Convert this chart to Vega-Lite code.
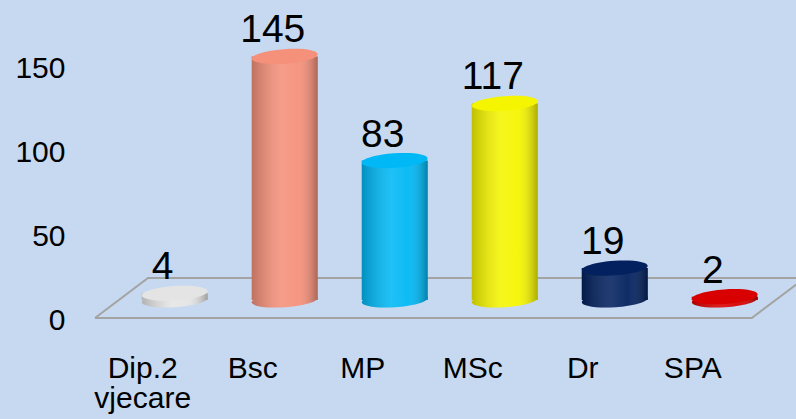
{
  "$schema": "https://vega.github.io/schema/vega-lite/v6.json",
  "width": 701,
  "height": 312,
  "autosize": {"type": "none"},
  "padding": {"left": 95, "top": 6, "right": 0, "bottom": 101},
  "background": "#c6d9f0",
  "config": {
    "view": {"stroke": null},
    "font": "Liberation Sans"
  },
  "datasets": {
    "bars": [
      {"cat": "Dip.2 vjecare", "value": 4},
      {"cat": "Bsc", "value": 145},
      {"cat": "MP", "value": 83},
      {"cat": "MSc", "value": 117},
      {"cat": "Dr", "value": 19},
      {"cat": "SPA", "value": 2}
    ],
    "floor": [
      {"fx": 0, "fy": -10.7, "k": 0},
      {"fx": 93.7, "fy": -10.7, "k": 1},
      {"fx": 101.3, "fy": 13.1, "k": 2},
      {"fx": 7.56, "fy": 13.1, "k": 3},
      {"fx": 0, "fy": -10.7, "k": 4}
    ]
  },
  "resolve": {"scale": {"x": "independent", "color": "independent"}},
  "layer": [
    {
      "data": {"name": "floor"},
      "mark": {"type": "line", "stroke": "#a3a3a3", "strokeWidth": 2, "clip": false},
      "encoding": {
        "x": {"field": "fx", "type": "quantitative", "axis": null, "scale": {"domain": [0, 100], "nice": false, "zero": false}},
        "y": {"field": "fy", "type": "quantitative", "scale": {"domain": [-10.7, 175], "nice": false, "zero": false},
          "axis": {
            "title": null, "domain": false, "ticks": false, "tickSize": 0, "grid": false,
            "values": [0, 50, 100, 150], "labelFontSize": 30, "labelColor": "#000000",
            "labelFont": "Liberation Sans", "labelPadding": 30, "labelOffset": 20
          }},
        "order": {"field": "k", "type": "quantitative"}
      }
    },
    {
      "data": {"name": "bars"},
      "encoding": {
        "x": {
          "field": "cat", "type": "nominal", "sort": null,
          "scale": {"paddingInner": 0.4, "paddingOuter": 0.386, "align": 0.55},
          "axis": {
            "title": null, "domain": false, "ticks": false, "tickSize": 0,
            "labelAngle": 0, "labelFontSize": 30, "labelColor": "#000000",
            "labelFont": "Liberation Sans", "labelPadding": 35, "labelOffset": -32,
            "labelLineHeight": 30, "labelBaseline": "top",
            "labelExpr": "datum.label == 'Dip.2 vjecare' ? ['Dip.2', 'vjecare'] : datum.label"
          }
        },
        "y": {
          "field": "value", "type": "quantitative",
          "scale": {"domain": [-10.7, 175], "nice": false, "zero": false},
          "axis": {
            "title": null, "domain": false, "ticks": false, "tickSize": 0, "grid": false,
            "values": [0, 50, 100, 150], "labelFontSize": 30, "labelColor": "#000000",
            "labelFont": "Liberation Sans", "labelPadding": 30, "labelOffset": 20
          }
        }
      },
      "layer": [
        {
          "mark": {"type": "point", "filled": true, "opacity": 1, "size": 4356, "angle": -4,
                   "shape": "M-1,0A1,0.22,0,1,0,1,0A1,0.22,0,1,0,-1,0Z"},
          "encoding": {
            "y": {"datum": 0},
            "color": {"field": "cat", "type": "nominal", "legend": null,
              "scale": {"domain": ["Dip.2 vjecare", "Bsc", "MP", "MSc", "Dr", "SPA"],
                        "range": ["#e4e4e4", "#f5907a", "#00b8f5", "#f5f500", "#03215e", "#d80000"]}}
          }
        },
        {
          "mark": {"type": "point", "filled": true, "opacity": 1, "size": 4356, "angle": -4,
                   "shape": "M-1,0A1,0.22,0,1,0,1,0A1,0.22,0,1,0,-1,0Z",
                   "color": {"gradient": "linear", "x1": 0, "x2": 1, "y1": 0, "y2": 0,
                     "stops": [{"offset": 0, "color": "rgba(0,0,0,0.22)"}, {"offset": 0.45, "color": "rgba(255,255,255,0.12)"}, {"offset": 0.7, "color": "rgba(255,255,255,0.05)"}, {"offset": 1, "color": "rgba(0,0,0,0.3)"}]}},
          "encoding": {"y": {"datum": 0}}
        },
        {
          "mark": {"type": "bar"},
          "encoding": {
            "y2": {"datum": 0},
            "color": {"field": "cat", "type": "nominal", "legend": null,
              "scale": {"domain": ["Dip.2 vjecare", "Bsc", "MP", "MSc", "Dr", "SPA"],
                        "range": ["#e4e4e4", "#f5907a", "#00b8f5", "#f5f500", "#03215e", "#d80000"]}}
          }
        },
        {
          "mark": {"type": "bar",
                   "color": {"gradient": "linear", "x1": 0, "x2": 1, "y1": 0, "y2": 0,
                     "stops": [{"offset": 0, "color": "rgba(0,0,0,0.22)"}, {"offset": 0.45, "color": "rgba(255,255,255,0.12)"}, {"offset": 0.7, "color": "rgba(255,255,255,0.05)"}, {"offset": 1, "color": "rgba(0,0,0,0.3)"}]}},
          "encoding": {"y2": {"datum": 0}}
        },
        {
          "mark": {"type": "point", "filled": true, "opacity": 1, "size": 4356, "angle": -4,
                   "shape": "M-1,0A1,0.22,0,1,0,1,0A1,0.22,0,1,0,-1,0Z"},
          "encoding": {
            "color": {"field": "cat", "type": "nominal", "legend": null,
              "scale": {"domain": ["Dip.2 vjecare", "Bsc", "MP", "MSc", "Dr", "SPA"],
                        "range": ["#cfcfcf", "#c8725f", "#0093c4", "#c9c900", "#001a4d", "#c40000"]}}
          }
        },
        {
          "mark": {"type": "text", "fontSize": 39, "font": "Liberation Sans", "color": "#000000",
                   "dx": -12, "dy": -14, "baseline": "alphabetic", "align": "center"},
          "encoding": {"text": {"field": "value", "type": "quantitative"}}
        }
      ]
    }
  ]
}
